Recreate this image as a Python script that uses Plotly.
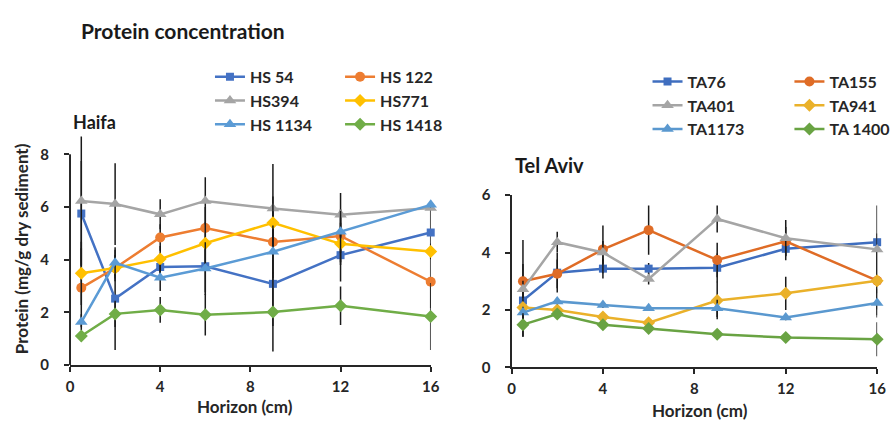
import plotly.graph_objects as go

# Sampling depths (cm)
depth = [0.5, 2, 4, 6, 9, 12, 16]

# Haifa stations: protein (mg/g dry sediment) and standard deviations
hs54 = [5.75, 2.52, 3.72, 3.75, 3.08, 4.17, 5.03]
hs54_sd = [2.0, 1.95, 0.5, 1.0, 1.6, 1.0, 1.0]
hs122 = [2.93, 3.68, 4.84, 5.20, 4.67, 4.90, 3.16]
hs122_sd = [1.5, 0.5, 0.5, 0.8, 1.2, 1.0, 1.0]
hs394 = [6.23, 6.11, 5.72, 6.23, 5.94, 5.70, 5.96]
hs394_sd = [2.45, 1.55, 0.57, 0.9, 1.69, 0.83, 0.1]
hs771 = [3.48, 3.68, 4.02, 4.62, 5.40, 4.60, 4.31]
hs771_sd = [1.2, 0.4, 0.5, 0.8, 1.0, 0.8, 0.3]
hs1134 = [1.63, 3.88, 3.31, 3.66, 4.30, 5.06, 6.08]
hs1134_sd = [0.3, 0.5, 0.5, 1.0, 1.0, 0.8, 0.1]
hs1418 = [1.10, 1.94, 2.09, 1.91, 2.01, 2.25, 1.84]
hs1418_sd = [0.2, 0.5, 0.49, 0.79, 1.5, 0.73, 1.27]

# Tel Aviv stations
ta76 = [2.33, 3.30, 3.44, 3.44, 3.47, 4.13, 4.36]
ta76_sd = [1.27, 0.69, 0.34, 0.2, 0.5, 0.4, 0.3]
ta155 = [3.00, 3.26, 4.11, 4.78, 3.74, 4.39, 3.02]
ta155_sd = [1.44, 0.5, 0.83, 0.86, 0.6, 0.5, 1.2]
ta401 = [2.72, 4.36, 4.00, 3.08, 5.17, 4.50, 4.11]
ta401_sd = [0.3, 0.36, 0.4, 0.19, 0.47, 0.63, 1.53]
ta941 = [2.09, 2.00, 1.76, 1.56, 2.33, 2.58, 3.02]
ta941_sd = [0.2, 0.1, 0.1, 0.1, 0.65, 0.58, 1.0]
ta1173 = [1.91, 2.30, 2.17, 2.06, 2.06, 1.74, 2.24]
ta1173_sd = [0.2, 0.1, 0.1, 0.05, 0.3, 0.1, 0.5]
ta1400 = [1.49, 1.86, 1.49, 1.36, 1.16, 1.04, 0.98]
ta1400_sd = [0.4, 0.1, 0.1, 0.05, 0.1, 0.05, 0.59]

x_ticks = [0, 4, 8, 12, 16]
haifa_y_ticks = [0, 2, 4, 6, 8]
telaviv_y_ticks = [0, 2, 4, 6]

FONT = "Lato"
INK = "#262626"
W, H = 896, 424

haifa_series = [
    ("HS 54", hs54, hs54_sd, "#4472C4", "square", 8, "legend"),
    ("HS 122", hs122, hs122_sd, "#ED7D31", "circle", 10, "legend2"),
    ("HS394", hs394, hs394_sd, "#A5A5A5", "triangle-up", 11, "legend"),
    ("HS771", hs771, hs771_sd, "#FFC000", "diamond", 10, "legend2"),
    ("HS 1134", hs1134, hs1134_sd, "#5B9BD5", "triangle-up", 11, "legend"),
    ("HS 1418", hs1418, hs1418_sd, "#70AD47", "diamond", 10, "legend2"),
]
telaviv_series = [
    ("TA76", ta76, ta76_sd, "#3F6EBF", "square", 8, "legend3"),
    ("TA155", ta155, ta155_sd, "#DF6C26", "circle", 10, "legend4"),
    ("TA401", ta401, ta401_sd, "#A5A5A5", "triangle-up", 11, "legend3"),
    ("TA941", ta941, ta941_sd, "#EAB12A", "diamond", 10, "legend4"),
    ("TA1173", ta1173, ta1173_sd, "#5A98CF", "triangle-up", 11, "legend3"),
    ("TA 1400", ta1400, ta1400_sd, "#69A343", "diamond", 10, "legend4"),
]

fig = go.Figure()


def add_series(series, xa, ya):
    for name, vals, sd, color, symbol, size, leg in series:
        fig.add_trace(go.Scatter(
            x=depth, y=vals, name=name, mode="lines+markers",
            xaxis=xa, yaxis=ya, legend=leg, legendgroup=name,
            line=dict(color=color, width=2.5),
            marker=dict(symbol=symbol, size=size, color=color),
            error_y=dict(type="data", array=sd, visible=True,
                         color="#1a1a1a", thickness=1.5, width=0),
            cliponaxis=False,
        ))


add_series(haifa_series, "x", "y")
add_series(telaviv_series, "x2", "y2")


def px_x(p):
    return p / W


def px_y(p):
    return 1 - p / H


tick_font = dict(family=FONT, size=15, color=INK, weight="bold")
axis_common = dict(ticks="outside", ticklen=5, tickwidth=2, tickcolor=INK,
                   showgrid=False, zeroline=False, tickfont=tick_font)

# Haifa panel: y range extends past 8 so the tallest error bars show,
# the visible spine stops at 8
haifa_top = 8.8
fig.update_layout(
    xaxis=dict(domain=[px_x(67), px_x(433)], range=[0, 16], tickvals=x_ticks,
               showline=True, linewidth=2, linecolor=INK, anchor="y",
               ticklabelstandoff=2, **axis_common),
    yaxis=dict(domain=[px_y(370.7), px_y(370.7 - 27.5 * haifa_top)],
               range=[0, haifa_top], tickvals=haifa_y_ticks, showline=False,
               anchor="x", ticklabelstandoff=12, **axis_common),
    xaxis2=dict(domain=[px_x(515), px_x(886)], range=[0, 16], tickvals=x_ticks,
                showline=True, linewidth=2, linecolor=INK, anchor="y2",
                ticklabelstandoff=2, **axis_common),
    yaxis2=dict(domain=[px_y(373.3), px_y(193.3)], range=[0, 6],
                tickvals=telaviv_y_ticks, showline=True, linewidth=2,
                linecolor=INK, anchor="x2", ticklabelstandoff=11,
                **axis_common),
)

fig.add_shape(type="line", xref="paper", yref="y domain",
              x0=px_x(67), x1=px_x(67), y0=0, y1=8 / haifa_top,
              line=dict(color=INK, width=2))

leg_font = dict(family=FONT, size=16, color=INK, weight="bold")
leg_common = dict(font=leg_font, bgcolor="rgba(0,0,0,0)", tracegroupgap=0,
                  traceorder="normal", xanchor="left", yanchor="top",
                  itemclick=False, itemdoubleclick=False)
fig.update_layout(
    legend=dict(x=px_x(209), y=px_y(52), **leg_common),
    legend2=dict(x=px_x(341), y=px_y(52), **leg_common),
    legend3=dict(x=px_x(653), y=px_y(57), **leg_common),
    legend4=dict(x=px_x(797), y=px_y(57), **leg_common),
)

title_font = dict(family=FONT, size=21, color="#1a1a1a", weight="bold")
lab_font = dict(family=FONT, size=17, color=INK, weight="bold")
annotations = [
    dict(text="Protein concentration", x=px_x(76), y=px_y(21), font=title_font,
         xanchor="left", yanchor="middle"),
    dict(text="Haifa", x=px_x(68), y=px_y(117), font=dict(title_font, size=18),
         xanchor="left", yanchor="middle"),
    dict(text="Tel Aviv", x=px_x(517), y=px_y(162), font=dict(title_font, size=20),
         xanchor="left", yanchor="middle"),
    dict(text="Protein (mg/g dry sediment)", x=px_x(18), y=px_y(249),
         textangle=-90, font=lab_font, xanchor="center", yanchor="middle"),
    dict(text="Horizon (cm)", x=px_x(245), y=px_y(414), font=lab_font,
         xanchor="center", yanchor="middle", borderpad=0),
    dict(text="Horizon (cm)", x=px_x(706), y=px_y(418), font=lab_font,
         xanchor="center", yanchor="middle", borderpad=0),
]
for a in annotations:
    a.update(xref="paper", yref="paper", showarrow=False)
fig.update_layout(annotations=annotations)

fig.update_layout(
    width=W, height=H, margin=dict(l=0, r=0, t=0, b=0),
    paper_bgcolor="white", plot_bgcolor="white",
    font=dict(family=FONT, color=INK),
    showlegend=True,
)

fig.write_html("out.html", config={"displayModeBar": False})
